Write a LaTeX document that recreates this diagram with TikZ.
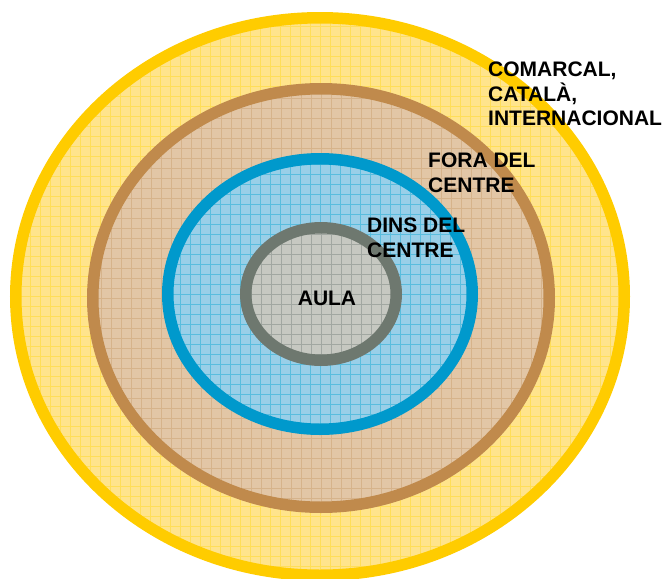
\documentclass[tikz,border=0pt]{standalone}
\usepackage{fontspec}
\setmainfont{Liberation Sans}
\usetikzlibrary{shapes.geometric}

\definecolor{ringyellow}{HTML}{FFCC00}
\definecolor{fillyellow}{HTML}{FFE48C}
\definecolor{ringbrown}{HTML}{C08A4C}
\definecolor{fillbrown}{HTML}{E2C6A6}
\definecolor{ringblue}{HTML}{0099CC}
\definecolor{fillblue}{HTML}{99CFE8}
\definecolor{ringgrey}{HTML}{6E786F}
\definecolor{fillgrey}{HTML}{C6C8C1}

\begin{document}
\begin{tikzpicture}[x=1pt,y=-1pt,
    every node/.style={inner sep=0pt},
    level/.style={ellipse,line width=11.5pt,draw=#1,
      path picture={\draw[#1!65,line width=0.7pt,step=10pt]
        (path picture bounding box.south west) grid (path picture bounding box.north east);}},
    label/.style={anchor=north west,align=left,font=\bfseries\fontsize{21}{24.5}\selectfont}]
  \useasboundingbox (0,0) rectangle (665,579);
  \node[level=ringyellow,fill=fillyellow,minimum width=608.5pt,minimum height=557.5pt] (outer) at (320,296.5) {};
  \node[level=ringbrown,fill=fillbrown,minimum width=456.5pt,minimum height=418.5pt] (fora) at (321,298) {};
  \node[level=ringblue,fill=fillblue,minimum width=304.5pt,minimum height=270.5pt] (dins) at (320,294) {};
  \node[level=ringgrey,fill=fillgrey,minimum width=150.5pt,minimum height=132.5pt] (aula) at (321,294) {};
  % labels
  \node[label] (lcomarcal) at (488,62) {COMARCAL,\\CATAL\`A,\\INTERNACIONAL};
  \node[label] (lfora) at (428,153) {FORA DEL\\CENTRE};
  \node[label] (ldins) at (367,218) {DINS DEL\\CENTRE};
  \node[font=\bfseries\fontsize{21}{24.5}\selectfont] (laula) at (327,298) {AULA};
\end{tikzpicture}
\end{document}
